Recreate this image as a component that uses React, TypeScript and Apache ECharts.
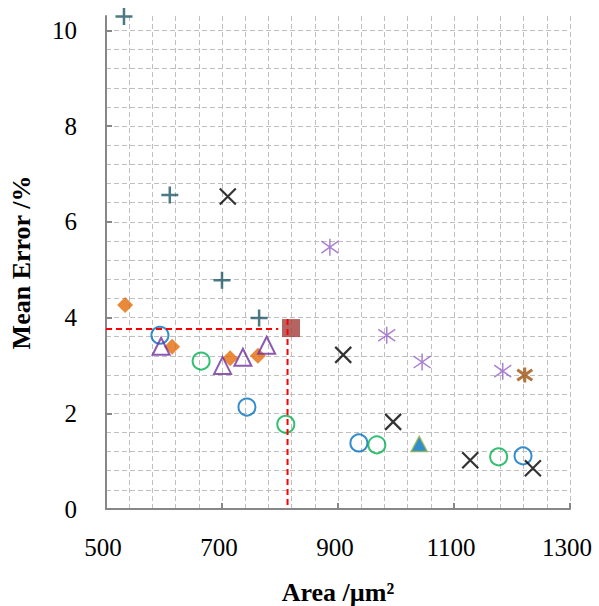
import React, { useEffect, useRef } from "react";
import * as echarts from "echarts";

// Data: [area (µm²), mean error (%)]
const tealPlus: number[][] = [[531, 10.29], [610, 6.56], [700, 4.78], [764, 3.99]];
const orangeDiamond: number[][] = [[533, 4.26], [614, 3.39], [714, 3.15], [762, 3.2]];
const blueCircle: number[][] = [[593, 3.63], [743, 2.13], [936, 1.38], [1219, 1.11]];
const greenCircle: number[][] = [[664, 3.09], [810, 1.77], [967, 1.34], [1177, 1.09]];
const purpleTriangle: number[][] = [[595, 3.4], [701, 3.0], [736, 3.17], [777, 3.42]];
const blackCross: number[][] = [[710, 6.53], [909, 3.22], [995, 1.82], [1128, 1.02], [1236, 0.85]];
const lilacStar: number[][] = [[886, 5.47], [984, 3.63], [1045, 3.07], [1184, 2.88]];
const brownStar: number[][] = [[1222, 2.8]];
const blueTriangle: number[][] = [[1040, 1.36]];
const redSquare: number[][] = [[819, 3.78]];
const guideH: number[][] = [[500, 3.76], [797, 3.76]];
const guideV: number[][] = [[813, 3.97], [813, 0]];

const yTicks = [0, 2, 4, 6, 8, 10];

const FONT = "Liberation Serif, Times New Roman, serif";

const PLUS = "path://M0,-10L0,10M-10,0L10,0";
const CROSS = "path://M-10,-10L10,10M-10,10L10,-10";
const STAR = "path://M0,-10L0,10M-10,-7L10,7M-10,7L10,-7";

const gridLine = { color: "#bfbfbf", width: 1, type: [5, 3] as number[] };
const axisColor = "#878787";

export default function App() {
  const ref = useRef<HTMLDivElement>(null);
  useEffect(() => {
    if (!ref.current) return;
    const chart = echarts.init(ref.current, undefined, { renderer: "svg" });
    const strokeSeries = (data: number[][], symbol: string, color: string, size: number, width: number) => ({
      type: "scatter",
      data,
      symbol,
      symbolSize: size,
      clip: false,
      itemStyle: { color: "none", borderColor: color, borderWidth: width },
    });
    chart.setOption({
      animation: false,
      backgroundColor: "#ffffff",
      grid: { left: 106, right: 29, top: 16, bottom: 97, containLabel: false, outerBoundsMode: "none" },
      xAxis: {
        type: "value",
        min: 500,
        max: 1300,
        interval: 200,
        name: "Area /µm²",
        nameLocation: "middle",
        nameGap: 70,
        nameTextStyle: { fontFamily: FONT, fontSize: 26, fontWeight: "bold", color: "#000" },
        axisLine: { lineStyle: { color: axisColor, width: 2 } },
        axisTick: { inside: true, length: 6, lineStyle: { color: axisColor, width: 2 } },
        axisLabel: {
          formatter: (v: number) => String(v),
          fontFamily: FONT,
          fontSize: 25,
          color: "#000",
          margin: 26,
          padding: [0, 6, 0, 0],
        },
        splitLine: { show: true, lineStyle: gridLine },
        minorTick: { show: false, splitNumber: 5 },
        minorSplitLine: { show: true, lineStyle: gridLine },
      },
      yAxis: [
        {
          type: "value",
          min: 0,
          max: 10.3,
          interval: 0.4,
          name: "Mean Error /%",
          nameLocation: "middle",
          nameGap: 72,
          nameTextStyle: { fontFamily: FONT, fontSize: 26, fontWeight: "bold", color: "#000" },
          axisLine: { lineStyle: { color: axisColor, width: 2 } },
          axisTick: { show: false },
          axisLabel: {
            showMaxLabel: false,
            formatter: (v: number) =>
              Math.abs(v / 2 - Math.round(v / 2)) < 1e-6 ? String(Math.round(v)) : "",
            fontFamily: FONT,
            fontSize: 25,
            color: "#000",
            margin: 29,
          },
          splitLine: { show: true, showMaxLine: false, lineStyle: gridLine },
        },
        {
          type: "value",
          position: "left",
          min: 0,
          max: 10.3,
          interval: 2,
          axisLine: { show: false },
          axisLabel: { show: false },
          splitLine: { show: false },
          axisTick: {
            show: true,
            inside: true,
            length: 6,
            customValues: yTicks,
            lineStyle: { color: axisColor, width: 2 },
          },
        },
      ],
      series: [
        strokeSeries(tealPlus, PLUS, "#1f5765", 17, 2.5),
        {
          type: "scatter",
          data: orangeDiamond,
          symbol: "diamond",
          symbolSize: 16,
          clip: false,
          itemStyle: { color: "#e46c0a" },
        },
        strokeSeries(blueCircle, "circle", "#0070c0", 17, 2),
        strokeSeries(greenCircle, "circle", "#00b050", 17, 2),
        strokeSeries(purpleTriangle, "triangle", "#7030a0", 17, 2),
        strokeSeries(blackCross, CROSS, "#000000", 16, 2.2),
        strokeSeries(lilacStar, STAR, "#9560c8", 17, 1.5),
        strokeSeries(brownStar, STAR, "#a0520f", 15, 3),
        {
          type: "scatter",
          data: blueTriangle,
          symbol: "triangle",
          symbolSize: [16, 15],
          clip: false,
          itemStyle: { color: "#0070c0", borderColor: "#8fb14b", borderWidth: 1.5 },
        },
        {
          type: "scatter",
          data: redSquare,
          symbol: "rect",
          symbolSize: 18,
          clip: false,
          itemStyle: { color: "#a33d3b" },
        },
        {
          type: "line",
          data: guideH,
          symbol: "none",
          lineStyle: { color: "#ff0000", width: 2, type: [6, 4] },
        },
        {
          type: "line",
          data: guideV,
          symbol: "none",
          lineStyle: { color: "#ff0000", width: 2, type: [6, 4] },
        },
      ],
    });
    return () => chart.dispose();
  }, []);
  return (
    <div
      ref={ref}
      style={{ position: "fixed", left: 0, top: 0, width: 599, height: 606, background: "#fff" }}
    />
  );
}
